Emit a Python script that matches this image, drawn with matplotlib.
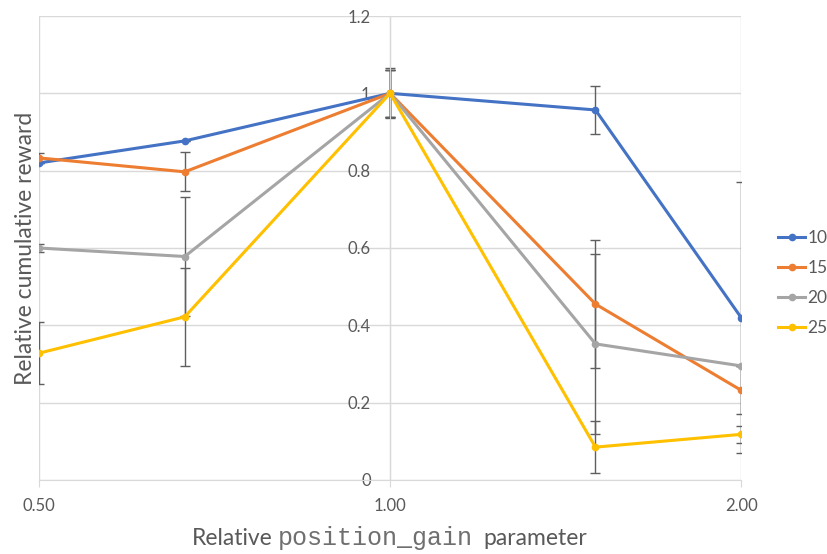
import matplotlib
matplotlib.use("Agg")
import matplotlib.pyplot as plt
from matplotlib.ticker import FixedLocator, NullLocator

# relative position_gain values (log axis, base 2)
gain = [0.5, 2 / 3, 1.0, 1.5, 2.0]
series = ["10", "15", "20", "25"]
colors = ["#4472C4", "#ED7D31", "#A5A5A5", "#FFC000"]

reward = {
    "10": [0.82, 0.877, 1.0, 0.957, 0.42],
    "15": [0.833, 0.797, 1.0, 0.455, 0.232],
    "20": [0.60, 0.578, 1.0, 0.352, 0.295],
    "25": [0.328, 0.422, 1.0, 0.085, 0.118],
}
err = {
    "10": [0.0, 0.0, 0.065, 0.062, 0.35],
    "15": [0.013, 0.05, 0.06, 0.166, 0.062],
    "20": [0.01, 0.155, 0.06, 0.232, 0.0],
    "25": [0.081, 0.127, 0.06, 0.068, 0.022],
}

xticks = [0.5, 1.0, 2.0]
xticklabels = ["0.50", "1.00", "2.00"]
yticks = [0, 0.2, 0.4, 0.6, 0.8, 1.0, 1.2]
yticklabels = ["0", "0.2", "0.4", "0.6", "0.8", "1", "1.2"]

txt = "#595959"
grid = "#D9D9D9"
plt.rcParams["font.family"] = ["Lato", "DejaVu Sans"]

fig = plt.figure(figsize=(8.27, 5.54), dpi=100)
ax = fig.add_axes([0.0472, 0.1336, 0.849, 0.8375])

for s, c in zip(series, colors):
    ax.errorbar(gain, reward[s], yerr=err[s], fmt="none", ecolor="#5F5F5F",
                elinewidth=1, capsize=3.5, capthick=1, zorder=2)
for s, c in zip(series, colors):
    ax.plot(gain, reward[s], color=c, lw=2.2, marker="o", ms=4.5, label=s,
            zorder=3)

ax.set_xscale("log", base=2)
ax.set_xlim(0.5, 2.0)
ax.set_ylim(0, 1.2)
ax.xaxis.set_major_locator(FixedLocator(xticks))
ax.xaxis.set_minor_locator(NullLocator())
ax.set_xticklabels(xticklabels)
ax.set_yticks(yticks)
ax.set_yticklabels(yticklabels)

ax.grid(True, color=grid, lw=1)
ax.set_axisbelow(True)
for sp in ["top", "right"]:
    ax.spines[sp].set_visible(False)
ax.spines["left"].set_position(("data", 1.0))
ax.spines["left"].set_color(grid)
ax.spines["bottom"].set_color(grid)
ax.tick_params(axis="y", length=0, pad=14, labelsize=12, labelcolor=txt)
ax.tick_params(axis="x", length=5, color=grid, pad=8, labelsize=12,
               labelcolor=txt)

ax.set_ylabel("Relative cumulative reward", fontsize=16.5, color=txt)
ax.yaxis.set_label_coords(-0.005, 0.5)

# x label in three pieces: the parameter name is set in a monospace font
fig.text(192 / 827, 0.016, "Relative", fontsize=16.5, color=txt,
         ha="left", va="baseline")
fig.text(278 / 827, 0.016, "position_gain", fontsize=18, color="#6F6F6F",
         ha="left", va="baseline", family="Liberation Mono")
fig.text(483 / 827, 0.016, "parameter", fontsize=16.5, color=txt,
         ha="left", va="baseline")

ax.legend(loc="center left", bbox_to_anchor=(1.052, 0.4246), frameon=False,
          fontsize=12.5, labelcolor=txt, handlelength=1.6,
          handletextpad=0.1, labelspacing=0.8, borderpad=0,
          borderaxespad=0)

fig.savefig("out.png", dpi=100)
